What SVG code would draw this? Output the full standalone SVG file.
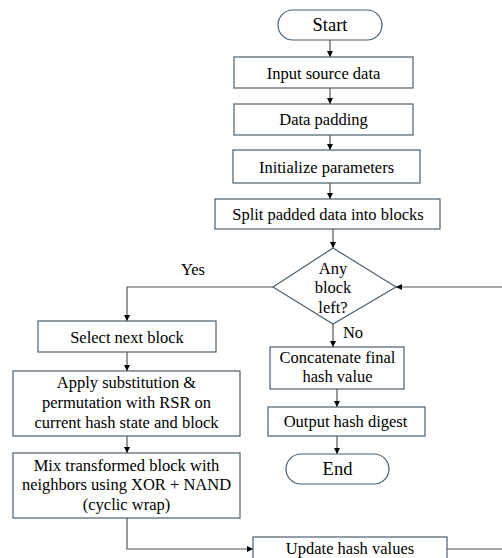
<svg xmlns="http://www.w3.org/2000/svg" width="502" height="558" viewBox="0 0 502 558">
<defs>
<marker id="ah" viewBox="0 0 10 10" refX="10" refY="5" markerWidth="6" markerHeight="6" orient="auto" markerUnits="userSpaceOnUse">
<path d="M0,0 L10,5 L0,10 z" fill="#000"/>
</marker>
<style>
.box{fill:#fff;stroke:#4b5f6e;stroke-width:1.2}
.t{font-family:"Liberation Serif","Times New Roman",serif;font-size:16.5px;fill:#000;text-anchor:middle}
.big{font-size:18.5px}
.c{fill:none;stroke:#555;stroke-width:1.2}
.a{marker-end:url(#ah)}
</style>
</defs>
<rect width="502" height="558" fill="#fff"/>
<g id="connectors">
<path class="c a" d="M330,40 V57"/>
<path class="c a" d="M330,88 V104"/>
<path class="c a" d="M330,135 V150"/>
<path class="c a" d="M330,183 V199"/>
<path class="c a" d="M333,229 V248"/>
<path class="c a" d="M273,287 H127 V321"/>
<path class="c a" d="M333,324 V347"/>
<path class="c a" d="M127,352 V371"/>
<path class="c a" d="M127,436 V453"/>
<path class="c a" d="M337,389 V407"/>
<path class="c a" d="M337,436 V454"/>
<path class="c a" d="M127,518 V549 H253"/>
<path class="c" d="M447,549 H502"/>
<path class="c a" d="M502,287 H396"/>
</g>
<g id="start"><rect class="box" x="278" y="10" width="104" height="30" rx="15"/><text class="t big" x="330" y="31">Start</text></g>
<g id="input"><rect class="box" x="234" y="57" width="179" height="31"/><text class="t" x="323.5" y="79">Input source data</text></g>
<g id="padding"><rect class="box" x="234" y="104" width="179" height="31"/><text class="t" x="323.5" y="124.5">Data padding</text></g>
<g id="init"><rect class="box" x="233" y="150" width="187" height="33"/><text class="t" x="326.5" y="172.5">Initialize parameters</text></g>
<g id="split"><rect class="box" x="215" y="199" width="225" height="30"/><text class="t" x="328" y="220">Split padded data into blocks</text></g>
<g id="decision"><polygon class="box" points="333,248 396,287 333,324 273,287"/><text class="t" x="333" y="274">Any</text><text class="t" x="333" y="292.5">block</text><text class="t" x="333" y="312.5">left?</text></g>
<text class="t" x="193" y="275">Yes</text>
<text class="t" x="353" y="338">No</text>
<g id="select"><rect class="box" x="38" y="321" width="178" height="31"/><text class="t" x="127" y="342.5">Select next block</text></g>
<g id="apply"><rect class="box" x="13" y="371" width="227" height="65"/><text class="t" x="126.5" y="388">Apply substitution &amp;</text><text class="t" x="126.5" y="407.5">permutation with RSR on</text><text class="t" x="126.5" y="427.5">current hash state and block</text></g>
<g id="mix"><rect class="box" x="13" y="453" width="227" height="65"/><text class="t" x="126.5" y="470.5">Mix transformed block with</text><text class="t" x="126.5" y="490">neighbors using XOR + NAND</text><text class="t" x="126.5" y="509.5">(cyclic wrap)</text></g>
<g id="concat"><rect class="box" x="270" y="347" width="134" height="42"/><text class="t" x="337.5" y="362.5">Concatenate final</text><text class="t" x="337.5" y="381.5">hash value</text></g>
<g id="output"><rect class="box" x="268" y="407" width="157" height="29"/><text class="t" x="345.5" y="427">Output hash digest</text></g>
<g id="end"><rect class="box" x="286" y="454" width="103" height="30" rx="15"/><text class="t big" x="337.5" y="475">End</text></g>
<g id="update"><rect class="box" x="253" y="537" width="194" height="30"/><text class="t" x="350" y="554">Update hash values</text></g>
</svg>
